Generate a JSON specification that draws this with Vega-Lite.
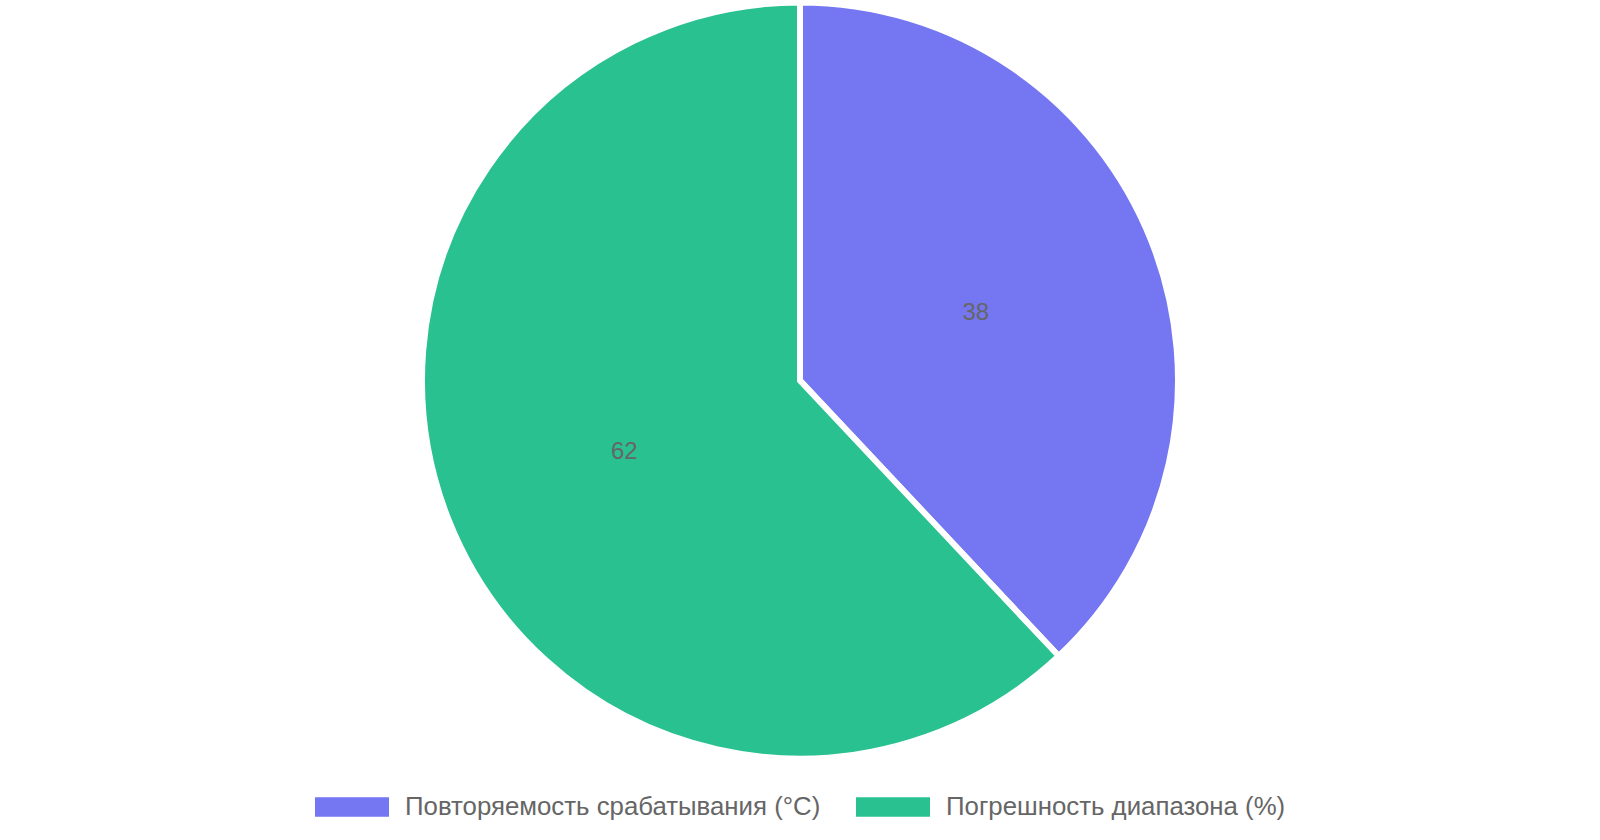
{
  "$schema": "https://vega.github.io/schema/vega-lite/v6.json",
  "width": 1600,
  "height": 761,
  "padding": 0,
  "background": "white",
  "data": {
    "values": [
      {"name": "Повторяемость срабатывания (°C)", "value": 38, "order": 1},
      {"name": "Погрешность диапазона (%)", "value": 62, "order": 2}
    ]
  },
  "encoding": {
    "theta": {"field": "value", "type": "quantitative", "stack": true},
    "order": {"field": "order", "type": "quantitative"},
    "color": {
      "field": "name",
      "type": "nominal",
      "sort": ["Повторяемость срабатывания (°C)", "Погрешность диапазона (%)"],
      "scale": {"range": ["#7476F2", "#29C18F"]},
      "legend": {
        "title": null,
        "orient": "bottom",
        "direction": "horizontal",
        "symbolType": "M-1,-0.2635H1V0.2635H-1Z",
        "symbolSize": 5476,
        "symbolStrokeWidth": 0,
        "symbolOpacity": 1,
        "labelFontSize": 25.8,
        "labelFont": "Liberation Sans",
        "labelColor": "#666666",
        "labelOffset": 16,
        "columnPadding": 35,
        "offset": 9,
        "labelLimit": 700
      }
    }
  },
  "layer": [
    {
      "mark": {"type": "arc", "outerRadius": 378, "stroke": "white", "strokeWidth": 6, "clip": true}
    },
    {
      "mark": {
        "type": "text",
        "radius": 189,
        "fontSize": 24,
        "font": "Liberation Sans",
        "baseline": "middle",
        "align": "center",
        "dy": 2
      },
      "encoding": {
        "text": {"field": "value", "type": "quantitative"},
        "color": {"value": "#666666"}
      }
    }
  ],
  "config": {
    "view": {"stroke": null},
    "legend": {"layout": {"bottom": {"anchor": "middle"}}}
  }
}
